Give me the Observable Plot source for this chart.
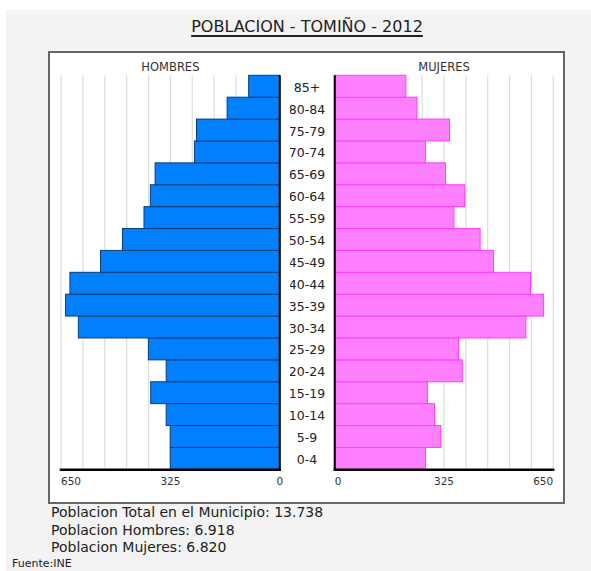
<!DOCTYPE html>
<html>
<head>
<meta charset="utf-8">
<script src="https://cdn.jsdelivr.net/npm/d3@7"></script>
<script src="https://cdn.jsdelivr.net/npm/@observablehq/plot@0.6"></script>
<style>
  html, body { margin: 0; padding: 0; background: #fff; }
  #page { position: relative; width: 591px; height: 571px; overflow: hidden; background: #fff; font-family: "DejaVu Sans", Verdana, sans-serif; }
  #gray { position: absolute; left: 6px; top: 10px; right: 0; bottom: 0; background: #f3f3f3; }
  #title { position: absolute; left: 0; width: 614px; top: 17px; text-align: center; font-size: 16px; color: #222; }
  #title span { text-decoration: underline; text-decoration-thickness: 2px; text-underline-offset: 3px; }
  #box { position: absolute; left: 48px; top: 51px; width: 513px; height: 449px; border: 2px solid #666; background: #fff; }
  .plot { position: absolute; }
  #foot { position: absolute; left: 51px; top: 504px; font-size: 14px; line-height: 17.5px; color: #222; }
  #src { position: absolute; left: 12px; top: 557px; font-size: 11px; line-height: 13px; color: #222; }
</style>
</head>
<body>
<div id="page">
  <div id="gray"></div>
  <div id="title"><span>POBLACION - TOMIÑO - 2012</span></div>
  <div id="box"></div>
  <div id="foot"></div>
  <div id="src">Fuente:INE</div>
</div>
<script>
// Age groups (bottom to top)
const ages = ["0-4","5-9","10-14","15-19","20-24","25-29","30-34","35-39","40-44","45-49","50-54","55-59","60-64","65-69","70-74","75-79","80-84","85+"];
// Values
const hombres = [324,324,336,382,336,389,597,635,622,531,466,402,383,369,252,246,155,91];
const mujeres = [271,317,298,277,381,370,570,623,584,474,434,356,388,331,271,343,246,213];
const gridTicks = [0,65,130,195,260,325,390,455,520,585,650];
const labelTicks = [0,325,650];
const footLines = ["Poblacion Total en el Municipio: 13.738","Poblacion Hombres: 6.918","Poblacion Mujeres: 6.820"];

const data = ages.map((a, i) => ({age: a, hombres: hombres[i], mujeres: mujeres[i]}));
const yDomain = ages.slice().reverse();

const tickStyle = {fontSize: 10.5, fill: "#333", frameAnchor: "bottom", dy: 14.7};

function tick(v, anchor) {
  return Plot.text([v], {x: d => d, text: d => String(d), textAnchor: anchor, ...tickStyle});
}

const left = Plot.plot({
  width: 240, height: 440,
  marginLeft: 10.5, marginRight: 10.7, marginTop: 21.3, marginBottom: 24.7,
  x: {domain: [0, 650], reverse: true, axis: null},
  y: {domain: yDomain, padding: 0, round: false, axis: null},
  style: {background: "transparent", fontFamily: "DejaVu Sans, Verdana, sans-serif"},
  marks: [
    Plot.ruleX(gridTicks, {stroke: "#dedede", strokeWidth: 1.2}),
    Plot.barX(data, {x: "hombres", y: "age", fill: "#0080ff", stroke: "#0d3c73", strokeWidth: 1}),
    Plot.ruleX([0], {stroke: "#000", strokeWidth: 2}),
    Plot.frame({anchor: "bottom", stroke: "#000", strokeWidth: 2.5}),
    tick(650, "start"), tick(325, "middle"), tick(0, "middle"),
    Plot.text(["HOMBRES"], {x: 325, frameAnchor: "top", dy: -12.5, fontSize: 11.5, fill: "#333"})
  ]
});
left.classList.add("plot");
left.style.left = "50px"; left.style.top = "54px";
document.getElementById("page").appendChild(left);

const right = Plot.plot({
  width: 272, height: 440,
  marginLeft: 44.3, marginRight: 9.3, marginTop: 21.3, marginBottom: 24.7,
  x: {domain: [0, 650], axis: null},
  y: {domain: yDomain, padding: 0, round: false},
  style: {background: "transparent", fontFamily: "DejaVu Sans, Verdana, sans-serif"},
  marks: [
    Plot.ruleX(gridTicks, {stroke: "#dedede", strokeWidth: 1.2}),
    Plot.barX(data, {x: "mujeres", y: "age", fill: "#ff80ff", stroke: "#ff3cff", strokeWidth: 1}),
    Plot.ruleX([0], {stroke: "#000", strokeWidth: 2}),
    Plot.frame({anchor: "bottom", stroke: "#000", strokeWidth: 2.5}),
    Plot.axisY({tickSize: 0, tickPadding: 27.8, textAnchor: "middle", fontSize: 12.5, fill: "#222", label: null, dy: 1}),
    tick(0, "start"), tick(325, "middle"), tick(650, "end"),
    Plot.text(["MUJERES"], {x: 325, frameAnchor: "top", dy: -12.5, fontSize: 11.5, fill: "#333"})
  ]
});
right.classList.add("plot");
right.style.left = "290px"; right.style.top = "54px";
document.getElementById("page").appendChild(right);

document.getElementById("foot").innerHTML = footLines.map(s => `<div>${s}</div>`).join("");
</script>
</body>
</html>
